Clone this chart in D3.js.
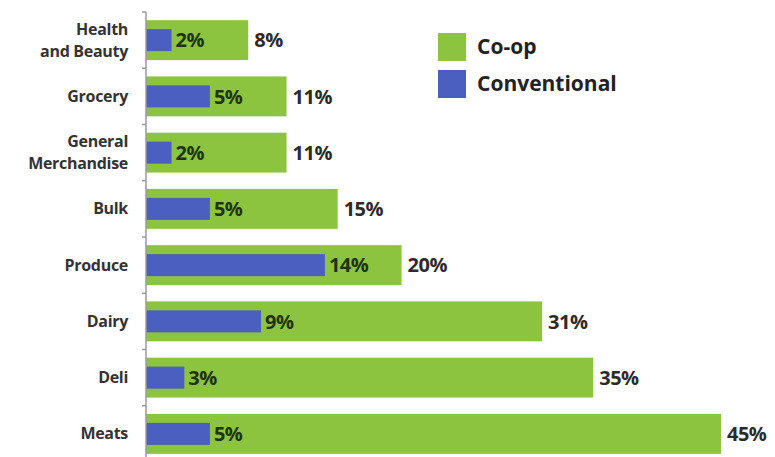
<!DOCTYPE html>
<html><head><meta charset="utf-8">
<script src="https://cdn.jsdelivr.net/npm/d3@7"></script>
<style>body{margin:0;background:#fff}svg{display:block}</style>
</head><body>
<svg id="c" width="775" height="457"></svg>
<script>
const categories = [["Health","and Beauty"],["Grocery"],["General","Merchandise"],["Bulk"],["Produce"],["Dairy"],["Deli"],["Meats"]];
const coop = [8, 11, 11, 15, 20, 31, 35, 45];
const conventional = [2, 5, 2, 5, 14, 9, 3, 5];
const seriesNames = ["Co-op", "Conventional"];
const colors = ["#8cc43f", "#4b5fc0"];

const svg = d3.select("#c");
const font = "'Open Sans', 'Noto Sans', sans-serif";
const x0 = 146;
const keys = categories.map((c,i)=>i);
const x = d3.scaleLinear().domain([0,45]).range([x0, 721]);
const y = d3.scaleBand().domain(keys).range([12, 462]).paddingInner(0.29).paddingOuter(0.145);
const step = y.step();

// green bars
svg.selectAll("rect.coop").data(coop).join("rect")
  .attr("x", x(0)).attr("y", (d,i)=>y(i)).attr("width", d=>x(d)-x(0)).attr("height", y.bandwidth())
  .attr("fill", colors[0]);
// blue bars
const bh = 22;
svg.selectAll("rect.conv").data(conventional).join("rect")
  .attr("x", x(0)).attr("y", (d,i)=>y(i)+y.bandwidth()/2-bh/2).attr("width", d=>x(d)-x(0)).attr("height", bh)
  .attr("fill", colors[1]);

// axis line and ticks
svg.append("line").attr("x1",x0).attr("x2",x0).attr("y1",12).attr("y2",457).attr("stroke","#9a9aa6").attr("stroke-width",1.5);
const tickYs = keys.map(i=>y(i)-step*0.145);
svg.selectAll("line.t").data(tickYs).join("line")
  .attr("x1",x0-4).attr("x2",x0).attr("y1",d=>d).attr("y2",d=>d).attr("stroke","#9a9aa6").attr("stroke-width",1.5);

// category labels
categories.forEach((lines,i)=>{
  const cy = y(i)+y.bandwidth()/2;
  const t = svg.append("text").attr("x",128).attr("text-anchor","end")
    .attr("font-family",font).attr("font-weight","bold").attr("font-size",16).attr("fill","#333")
    .attr("letter-spacing","-0.3");
  const n = lines.length, lh = 22;
  lines.forEach((l,j)=>{
    t.append("tspan").attr("x",128).attr("y", cy + (j-(n-1)/2)*lh).attr("dy","0.35em").text(l);
  });
});

// value labels
svg.selectAll("text.cv").data(conventional).join("text")
  .attr("x",d=>x(d)+4).attr("y",(d,i)=>y(i)+y.bandwidth()/2).attr("dy","0.36em")
  .attr("font-family",font).attr("font-weight","bold").attr("font-size",20).attr("fill","#1f3310")
  .attr("letter-spacing","-0.5")
  .text(d=>d+"%");
svg.selectAll("text.co").data(coop).join("text")
  .attr("x",d=>x(d)+6).attr("y",(d,i)=>y(i)+y.bandwidth()/2).attr("dy","0.36em")
  .attr("font-family",font).attr("font-weight","bold").attr("font-size",20).attr("fill","#2b2b2b")
  .attr("letter-spacing","-0.5")
  .text(d=>d+"%");

// legend
seriesNames.forEach((s,i)=>{
  const ly = 33 + i*37;
  svg.append("rect").attr("x",438).attr("y",ly).attr("width",28).attr("height",28).attr("fill",colors[i]);
  svg.append("text").attr("x",477).attr("y",ly+14).attr("dy","0.35em")
    .attr("font-family",font).attr("font-weight","bold").attr("font-size",21).attr("fill","#222").text(s);
});
</script>
</body></html>
